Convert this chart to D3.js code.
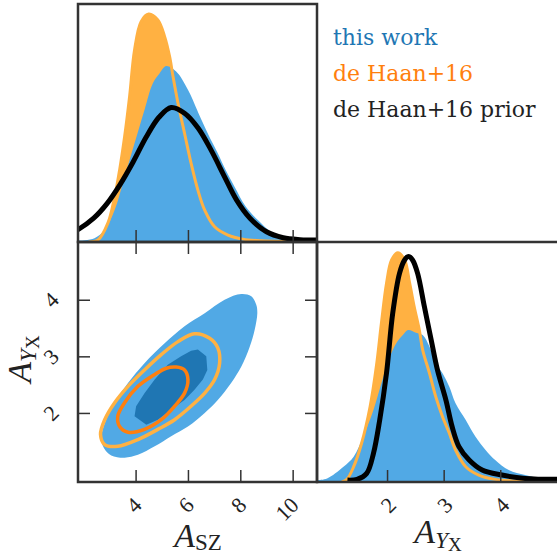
<!DOCTYPE html>
<html>
<head>
<meta charset="utf-8">
<script src="https://cdn.jsdelivr.net/npm/d3@7"></script>
<style>
	body { margin: 0; background: #fff; }
	svg { display: block; }
</style>
</head>
<body>
<svg width="557" height="559"></svg>
<script>
// 1D marginals of A_SZ, pairs of [value, normalised density]
const szThisWork = [[1.8,0.006],[2.43,0.016],[2.82,0.05],[3.2,0.134],[3.58,0.274],[3.96,0.415],[4.34,0.555],[4.66,0.667],[4.92,0.709],[5.17,0.739],[5.55,0.716],[6.0,0.64],[6.35,0.555],[6.55,0.505],[6.85,0.435],[7.14,0.373],[7.45,0.30],[7.78,0.232],[8.2,0.15],[8.67,0.092],[9.2,0.04],[9.7,0.015],[10.3,0.005],[10.93,0.002]];
const szDeHaan = [[2.2,0],[2.56,0.008],[2.94,0.079],[3.2,0.19],[3.39,0.303],[3.58,0.442],[3.77,0.611],[3.96,0.807],[4.21,0.926],[4.5,0.958],[4.85,0.933],[5.11,0.863],[5.3,0.779],[5.43,0.695],[5.62,0.583],[5.87,0.457],[6.12,0.331],[6.38,0.218],[6.64,0.134],[7.02,0.064],[7.53,0.029],[8.1,0.012],[8.8,0.005],[10.93,0.001]];
const szPrior = [[1.5,0.038],[1.8,0.052],[2.4,0.1],[2.9,0.16],[3.4,0.24],[3.9,0.335],[4.4,0.44],[4.9,0.525],[5.36,0.565],[5.87,0.541],[6.38,0.48],[6.89,0.385],[7.4,0.274],[7.86,0.176],[8.37,0.1],[9.0,0.043],[9.64,0.018],[10.28,0.01],[11.0,0.008]];

// 1D marginals of A_YX
const yxThisWork = [[0.78,0.008],[0.94,0.015],[1.23,0.064],[1.41,0.106],[1.58,0.19],[1.76,0.301],[1.9,0.413],[2.05,0.524],[2.16,0.58],[2.28,0.615],[2.37,0.636],[2.51,0.625],[2.63,0.615],[2.75,0.566],[2.86,0.497],[2.98,0.455],[3.1,0.399],[3.21,0.329],[3.39,0.259],[3.56,0.19],[3.74,0.134],[3.91,0.092],[4.15,0.05],[4.44,0.029],[4.73,0.015],[5.02,0.01]];
const yxDeHaan = [[1.2,0],[1.29,0.011],[1.41,0.064],[1.55,0.162],[1.7,0.315],[1.81,0.482],[1.9,0.664],[1.99,0.831],[2.08,0.929],[2.19,0.959],[2.31,0.929],[2.4,0.831],[2.48,0.733],[2.57,0.636],[2.63,0.552],[2.75,0.455],[2.86,0.357],[2.98,0.273],[3.1,0.204],[3.21,0.134],[3.39,0.064],[3.62,0.029],[3.91,0.011],[4.3,0.004],[5.02,0.001]];
const yxPrior = [[1.3,0.008],[1.47,0.011],[1.64,0.036],[1.76,0.12],[1.87,0.259],[1.99,0.455],[2.1,0.706],[2.22,0.873],[2.31,0.929],[2.38,0.943],[2.45,0.929],[2.54,0.873],[2.66,0.733],[2.78,0.594],[2.89,0.469],[3.04,0.343],[3.15,0.231],[3.27,0.148],[3.45,0.092],[3.68,0.05],[4.03,0.029],[4.44,0.015],[5.02,0.011]];

// 2D contours, pairs of [A_SZ, A_YX]
const thisWork95 = [[8.04,4.1],[8.42,4.06],[8.61,3.91],[8.65,3.76],[8.55,3.47],[8.36,3.17],[8.04,2.82],[7.65,2.53],[7.14,2.23],[6.64,2.0],[6.0,1.76],[5.36,1.59],[4.73,1.41],[4.09,1.26],[3.58,1.21],[3.07,1.25],[2.79,1.38],[2.69,1.56],[2.82,1.82],[3.2,2.18],[3.71,2.53],[4.34,2.88],[5.11,3.23],[5.87,3.53],[6.64,3.76],[7.4,4.0]];
const thisWork68 = [[6.38,3.12],[6.7,3.0],[6.74,2.76],[6.57,2.59],[6.25,2.41],[5.87,2.23],[5.36,2.06],[4.85,1.88],[4.41,1.79],[3.96,1.94],[4.02,2.12],[4.34,2.35],[4.73,2.59],[5.23,2.85],[5.74,3.0],[6.12,3.1]];
const deHaan95 = [[6.25,3.4],[6.83,3.32],[7.14,3.15],[7.21,2.88],[7.02,2.59],[6.64,2.35],[6.12,2.12],[5.49,1.88],[4.85,1.71],[4.09,1.53],[3.32,1.41],[2.82,1.44],[2.66,1.62],[2.82,1.88],[3.2,2.18],[3.71,2.47],[4.34,2.76],[4.98,3.03],[5.62,3.26]];
const deHaan68 = [[5.55,2.81],[5.87,2.76],[6.0,2.59],[5.87,2.35],[5.49,2.12],[4.98,1.88],[4.34,1.71],[3.71,1.66],[3.39,1.76],[3.32,1.94],[3.58,2.18],[4.09,2.47],[4.73,2.68],[5.17,2.79]];

// ticks and legend
const szTicks = [4, 6, 8, 10];
const yxTicks = [2, 3, 4];
const legendLabels = ['this work', 'de Haan+16', 'de Haan+16 prior'];
const legendColors = ['#1f77b4', '#ff7f0e', '#222'];

const blue = '#51a9e5',
	darkBlue = '#1f76b3',
	lightOrange = '#ffb142',
	orange = '#ff7f0e',
	frameColor = '#333';

let svg = d3.select('svg');

// panel boxes
let pTop = { x: 78, y: 4, w: 239, h: 238 };
let pLow = { x: 78, y: 242, w: 239, h: 240 };
let pSide = { x: 317, y: 242, w: 242, h: 240 };

let xSZ = d3.scaleLinear().domain([1.8, 10.93]).range([pLow.x, pLow.x + pLow.w]);
let yYX = d3.scaleLinear().domain([0.78, 5.02]).range([pLow.y + pLow.h, pLow.y]);
let xYX = d3.scaleLinear().domain([0.78, 5.02]).range([pSide.x + 1, pSide.x + pSide.w - 1]);
let hTop = d3.scaleLinear().domain([0, 1]).range([pTop.y + pTop.h, pTop.y]);
let hSide = d3.scaleLinear().domain([0, 1]).range([pSide.y + pSide.h, pSide.y + 1]);

let defs = svg.append('defs');
let clipFor = (id, p) => {
	defs.append('clipPath').attr('id', id)
		.append('rect').attr('x', p.x).attr('y', p.y).attr('width', p.w).attr('height', p.h);
	return svg.append('g').attr('clip-path', 'url(#' + id + ')');
};

/**
 * Draws a 1D marginal panel: filled de Haan, filled this work, outlines on top
 */
let drawMarginal = (g, x, h, work, haan, prior) => {
	let area = d3.area().curve(d3.curveCatmullRom).x((d) => x(d[0])).y0(h(0)).y1((d) => h(d[1]));
	let line = d3.line().curve(d3.curveCatmullRom).x((d) => x(d[0])).y((d) => h(d[1]));
	g.append('path').datum(haan).attr('fill', lightOrange).attr('d', area);
	g.append('path').datum(work).attr('fill', blue).attr('d', area);
	g.append('path').datum(haan).attr('fill', 'none').attr('stroke', lightOrange)
		.attr('stroke-width', 3).attr('d', line);
	g.append('path').datum(prior).attr('fill', 'none').attr('stroke', '#000')
		.attr('stroke-width', 5).attr('stroke-linejoin', 'round').attr('d', line);
};

let gTop = clipFor('clipTop', pTop);
drawMarginal(gTop, xSZ, hTop, szThisWork, szDeHaan, szPrior);

let gSide = clipFor('clipSide', pSide);
drawMarginal(gSide, xYX, hSide, yxThisWork, yxDeHaan, yxPrior);

// 2D panel
let gLow = clipFor('clipLow', pLow);
let smooth = d3.line().curve(d3.curveCatmullRomClosed).x((d) => xSZ(d[0])).y((d) => yYX(d[1]));
let poly = d3.line().curve(d3.curveLinearClosed).x((d) => xSZ(d[0])).y((d) => yYX(d[1]));
gLow.append('path').datum(thisWork95).attr('fill', blue).attr('d', smooth);
gLow.append('path').datum(thisWork68).attr('fill', darkBlue).attr('d', poly);
gLow.append('path').datum(deHaan95).attr('fill', 'none').attr('stroke', lightOrange)
	.attr('stroke-width', 3.5).attr('d', smooth);
gLow.append('path').datum(deHaan68).attr('fill', 'none').attr('stroke', orange)
	.attr('stroke-width', 3.5).attr('d', smooth);

// inward ticks
let tickLen = 12;
let addTicks = (axis, pos) => {
	let g = svg.append('g').attr('transform', pos).call(axis.tickSize(-tickLen).tickFormat(''));
	g.select('.domain').remove();
	g.selectAll('line').attr('stroke', frameColor).attr('stroke-width', 1.5);
};
addTicks(d3.axisBottom(xSZ).tickValues(szTicks), 'translate(0,' + (pTop.y + pTop.h) + ')');
addTicks(d3.axisBottom(xSZ).tickValues(szTicks), 'translate(0,' + (pLow.y + pLow.h) + ')');
addTicks(d3.axisTop(xSZ).tickValues(szTicks), 'translate(0,' + pLow.y + ')');
addTicks(d3.axisLeft(yYX).tickValues(yxTicks), 'translate(' + pLow.x + ',0)');
addTicks(d3.axisRight(yYX).tickValues(yxTicks), 'translate(' + (pLow.x + pLow.w) + ',0)');
addTicks(d3.axisBottom(xYX).tickValues(yxTicks), 'translate(0,' + (pSide.y + pSide.h) + ')');

// frames
[pTop, pLow, pSide].forEach((p) => {
	svg.append('rect').attr('x', p.x).attr('y', p.y).attr('width', p.w).attr('height', p.h)
		.attr('fill', 'none').attr('stroke', frameColor).attr('stroke-width', 2.5);
});

// rotated tick labels
let tickFont = "'Liberation Serif', 'Times New Roman', serif";
let labelX = (scale, ticks, dx) => {
	svg.append('g').selectAll('text').data(ticks).join('text')
		.attr('transform', (d) => 'translate(' + (scale(d) + dx) + ',501) rotate(-45)')
		.attr('text-anchor', 'end')
		.attr('dy', '0.35em')
		.attr('font-family', tickFont).attr('font-size', 22).attr('fill', '#222')
		.text((d) => d);
};
labelX(xSZ, szTicks, 2);
labelX(xYX, yxTicks, 5);
svg.append('g').selectAll('text').data(yxTicks).join('text')
	.attr('transform', (d) => 'translate(51,' + yYX(d) + ') rotate(-45)')
	.attr('text-anchor', 'middle')
	.attr('dy', '0.35em')
	.attr('font-family', tickFont).attr('font-size', 22).attr('fill', '#222')
	.text((d) => d);

// axis labels, A with subscripts
let axisLabel = (x, y, rot, parts) => {
	let t = svg.append('text')
		.attr('transform', 'translate(' + x + ',' + y + ') rotate(' + rot + ')')
		.attr('text-anchor', 'middle')
		.attr('font-family', tickFont).attr('fill', '#222');
	parts.forEach((p) => {
		t.append('tspan').attr('font-size', p.size).attr('font-style', p.italic ? 'italic' : 'normal')
			.attr('dy', p.dy).text(p.text);
	});
};
axisLabel(198, 547, 0, [
	{ text: 'A', size: 34, italic: true, dy: 0 },
	{ text: 'SZ', size: 23, italic: false, dy: 3 }
]);
let yxParts = [
	{ text: 'A', size: 34, italic: true, dy: 0 },
	{ text: 'Y', size: 23, italic: true, dy: 5 },
	{ text: 'X', size: 19, italic: false, dy: 3 }
];
axisLabel(438, 543, 0, yxParts);
axisLabel(31, 359, -90, yxParts);

// legend
svg.append('g').selectAll('text').data(legendLabels).join('text')
	.attr('x', 333)
	.attr('y', (d, i) => 45 + i * 36)
	.attr('font-family', "'DejaVu Serif', serif")
	.attr('font-size', 22)
	.attr('fill', (d, i) => legendColors[i])
	.text((d) => d);
</script>
</body>
</html>
